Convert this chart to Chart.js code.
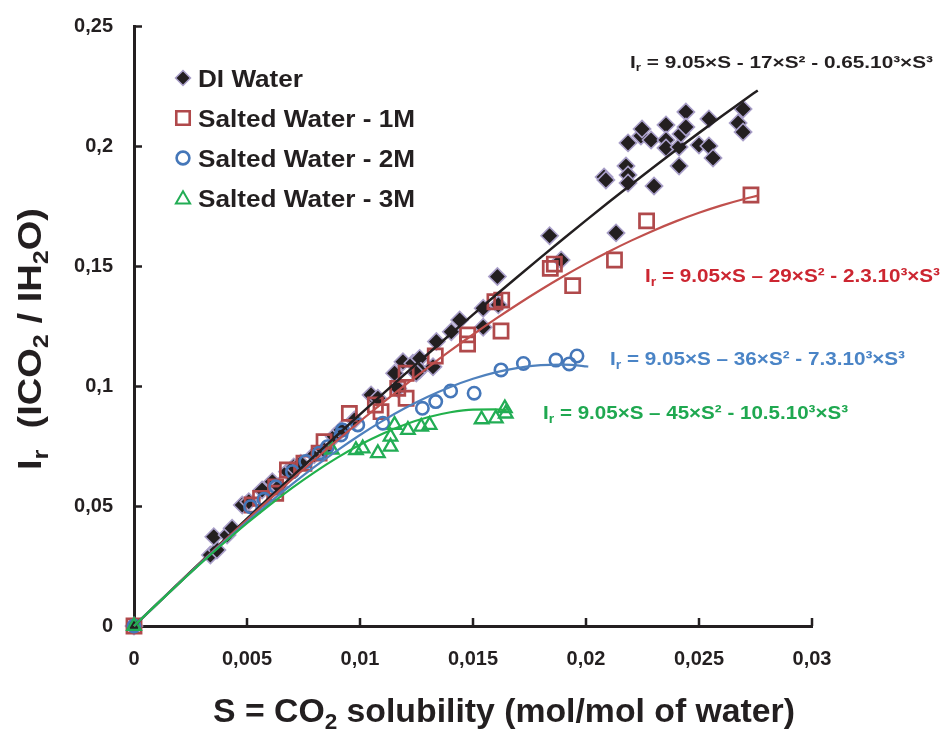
<!DOCTYPE html>
<html><head><meta charset="utf-8">
<script src="https://cdn.jsdelivr.net/npm/chart.js@4.4.1/dist/chart.umd.min.js"></script>
<style>html,body{margin:0;padding:0;background:#fff;}canvas{display:block;}</style>
</head><body>
<canvas id="c" width="945" height="729"></canvas>
<script>
// ---- tick labels ----
const xTickValues = [0, 0.005, 0.01, 0.015, 0.02, 0.025, 0.03];
const xTickLabels = ['0', '0,005', '0,01', '0,015', '0,02', '0,025', '0,03'];
const yTickValues = [0, 0.05, 0.1, 0.15, 0.2, 0.25];
const yTickLabels = ['0', '0,05', '0,1', '0,15', '0,2', '0,25'];

// ---- series names ----
const seriesNames = ['DI Water', 'Salted Water - 1M', 'Salted Water - 2M', 'Salted Water - 3M'];

// ---- DI water (diamonds) ----
const diS = [0,0.00338,0.00367,0.00353,0.00412,0.00434,0.00479,0.00508,0.00567,0.00612,0.0064,0.00679,0.00707,0.00738,0.00797,0.00841,0.00886,0.00916,0.00975,0.01049,0.01079,0.01153,0.01167,0.0119,0.01234,0.01264,0.01264,0.01249,0.01323,0.01338,0.01404,0.01441,0.01545,0.01545,0.01612,0.01608,0.01839,0.0189,0.02133,0.0208,0.02088,0.02177,0.02186,0.02186,0.02186,0.02243,0.02248,0.02288,0.02301,0.02354,0.02354,0.02354,0.02412,0.02412,0.0242,0.02442,0.02442,0.025,0.02544,0.02544,0.02562,0.02673,0.02695,0.02695];
const diIr = [0,0.0296,0.0317,0.0372,0.0379,0.0407,0.0504,0.0518,0.0567,0.0601,0.0581,0.0643,0.0663,0.0678,0.0713,0.0733,0.0789,0.0817,0.0858,0.0963,0.0949,0.1053,0.099,0.1101,0.1095,0.1115,0.1067,0.1054,0.108,0.1185,0.1226,0.1275,0.1245,0.1324,0.1338,0.1456,0.1626,0.1525,0.1638,0.1871,0.1858,0.1917,0.1879,0.1846,0.2013,0.2042,0.2071,0.2025,0.1833,0.2088,0.2025,0.1992,0.1996,0.1917,0.205,0.2142,0.2079,0.2004,0.2113,0.2,0.195,0.2096,0.2154,0.2058];

// ---- Salted water 1M (squares) ----
const s1S = [0,0.00523,0.0056,0.00627,0.00627,0.00679,0.00752,0.00819,0.00841,0.00953,0.01068,0.01093,0.01167,0.01204,0.01204,0.01333,0.01476,0.01476,0.01597,0.01627,0.01624,0.01842,0.0186,0.01941,0.02126,0.02268,0.0273];
const s1Ir = [0,0.0504,0.0532,0.0553,0.058,0.065,0.0678,0.072,0.0768,0.0886,0.0921,0.0893,0.099,0.1053,0.0949,0.1125,0.1213,0.1175,0.1351,0.1358,0.1229,0.149,0.1508,0.1418,0.1525,0.1688,0.1796];

// ---- Salted water 2M (circles) ----
const s2S = [0,0.00516,0.00575,0.00627,0.00701,0.0076,0.00819,0.00856,0.00916,0.00923,0.0099,0.01101,0.01276,0.01335,0.01401,0.01505,0.01624,0.01723,0.01867,0.01926,0.0196];
const s2Ir = [0,0.0497,0.0528,0.058,0.0643,0.0685,0.072,0.0747,0.0796,0.0817,0.0838,0.0845,0.0907,0.0935,0.0979,0.097,0.1067,0.1094,0.1108,0.1092,0.1125];

// ---- Salted water 3M (triangles) ----
const s3S = [0,0.00875,0.00982,0.01012,0.01079,0.01135,0.01135,0.01153,0.01212,0.01271,0.01308,0.01538,0.01601,0.01641,0.01645];
const s3Ir = [0,0.0735,0.0733,0.074,0.072,0.0747,0.0789,0.0838,0.0817,0.083,0.0838,0.0861,0.0865,0.0907,0.0885];

// ---- fitted curves ----
const fitS_DI = [0,0.001,0.002,0.003,0.004,0.005,0.006,0.007,0.008,0.009,0.01,0.011,0.012,0.013,0.014,0.015,0.016,0.017,0.018,0.019,0.02,0.021,0.022,0.023,0.024,0.025,0.026,0.027,0.0276];
const fitIr_DI = [0,0.009032,0.018027,0.026979,0.035886,0.044744,0.053548,0.062294,0.070979,0.079599,0.08815,0.096628,0.105029,0.113349,0.121584,0.129731,0.137786,0.145744,0.153601,0.161355,0.169,0.176533,0.183951,0.191248,0.198422,0.205469,0.212384,0.219163,0.223164];
const fitS_1M = [0,0.001,0.002,0.003,0.004,0.005,0.006,0.007,0.008,0.009,0.01,0.011,0.012,0.013,0.014,0.015,0.016,0.017,0.018,0.019,0.02,0.021,0.022,0.023,0.024,0.025,0.026,0.027,0.0276];
const fitIr_1M = [0,0.009019,0.017966,0.026827,0.035589,0.044238,0.052759,0.06114,0.069366,0.077424,0.0853,0.09298,0.10045,0.107696,0.114705,0.121463,0.127955,0.134169,0.14009,0.145705,0.151,0.155961,0.160574,0.164825,0.168701,0.172188,0.175271,0.177938,0.179333];
const fitS_2M = [0,0.001,0.002,0.003,0.004,0.005,0.006,0.007,0.008,0.009,0.01,0.011,0.012,0.013,0.014,0.015,0.016,0.017,0.018,0.019,0.02,0.0201];
const fitIr_2M = [0,0.009007,0.017898,0.026629,0.035157,0.043438,0.051427,0.059082,0.066358,0.073212,0.0796,0.085478,0.090802,0.095528,0.099613,0.103013,0.105683,0.107581,0.108662,0.108883,0.1082,0.108078];
const fitS_3M = [0,0.001,0.002,0.003,0.004,0.005,0.006,0.007,0.008,0.009,0.01,0.011,0.012,0.013,0.014,0.015,0.016,0.0165];
const fitIr_3M = [0,0.008995,0.017836,0.026462,0.034808,0.042813,0.050412,0.057544,0.064144,0.070151,0.0755,0.08013,0.083976,0.086977,0.089068,0.090188,0.090272,0.089906];

// ---- colours ----
const INK = '#231f20';
const C_DI = '#231f20', C_DI_EDGE = '#a99fc9';
const C_1M = '#b0494b', C_1M_LINE = '#c0504d', C_1M_TXT = '#cc2631';
const C_2M = '#4577b9', C_2M_LINE = '#4f81bd', C_2M_TXT = '#4a84c6';
const C_3M = '#22ad55', C_3M_LINE = '#22b14c', C_3M_TXT = '#1fa850';

const pts = (xs, ys) => xs.map((x, i) => ({x: x, y: ys[i]}));
const FONT = '"Liberation Sans", Arial, Helvetica, sans-serif';

function segFont(s, size) { return 'bold ' + (s.sub ? Math.round(size * 0.66) : size) + 'px ' + FONT; }
function richWidth(ctx, segs, size) {
  let w = 0;
  for (const s of segs) { ctx.font = segFont(s, size); w += ctx.measureText(s.t).width; }
  return w;
}
function drawRich(ctx, segs, x, y, size, targetW, color, rot) {
  const nat = richWidth(ctx, segs, size);
  const sx = targetW ? targetW / nat : 1;
  ctx.save();
  ctx.translate(x, y);
  if (rot) ctx.rotate(rot);
  ctx.scale(sx, 1);
  ctx.fillStyle = color;
  ctx.textBaseline = 'alphabetic';
  ctx.textAlign = 'left';
  let cx = 0;
  for (const s of segs) {
    ctx.font = segFont(s, size);
    ctx.fillText(s.t, cx, s.sub ? size * 0.2 : 0);
    cx += ctx.measureText(s.t).width;
  }
  ctx.restore();
}
function marker(ctx, style, x, y, r, fill, stroke, lw) {
  ctx.save();
  ctx.beginPath();
  if (style === 'rectRot') {
    ctx.moveTo(x, y - r); ctx.lineTo(x + r, y); ctx.lineTo(x, y + r); ctx.lineTo(x - r, y); ctx.closePath();
  } else if (style === 'rect') {
    const h = r * Math.SQRT1_2; ctx.rect(x - h, y - h, 2 * h, 2 * h);
  } else if (style === 'circle') {
    ctx.arc(x, y, r, 0, Math.PI * 2);
  } else if (style === 'triangle') {
    for (let k = 0; k < 3; k++) {
      const a = k * 2 * Math.PI / 3;
      const px = x + Math.sin(a) * r, py = y - Math.cos(a) * r;
      if (k === 0) ctx.moveTo(px, py); else ctx.lineTo(px, py);
    }
    ctx.closePath();
  }
  if (fill) { ctx.fillStyle = fill; ctx.fill(); }
  ctx.lineWidth = lw; ctx.strokeStyle = stroke; ctx.stroke();
  ctx.restore();
}

const decor = {
  id: 'decor',
  beforeDatasetsDraw(chart) {
    const ctx = chart.ctx;
    const xs = chart.scales.x, ys = chart.scales.y;
    const a = chart.chartArea;
    ctx.save();
    ctx.strokeStyle = INK; ctx.lineWidth = 2.5;
    ctx.beginPath();
    for (const v of yTickValues) {
      const py = Math.round(ys.getPixelForValue(v)) + 0.5;
      ctx.moveTo(a.left, py); ctx.lineTo(a.left + 8, py);
    }
    for (const v of xTickValues) {
      const px = Math.round(xs.getPixelForValue(v));
      ctx.moveTo(px, a.bottom); ctx.lineTo(px, a.bottom - 8);
    }
    ctx.stroke();
    ctx.restore();
  },
  afterDraw(chart) {
    const ctx = chart.ctx;
    // legend
    const lx = 183, ltx = 198, rows = [78, 118, 158, 198];
    marker(ctx, 'rectRot', lx, rows[0], 7.5, C_DI, C_DI_EDGE, 1.5);
    marker(ctx, 'rect', lx, rows[1], 9.5, null, C_1M, 2.6);
    marker(ctx, 'circle', lx, rows[2], 6.4, null, C_2M, 2.6);
    marker(ctx, 'triangle', lx, rows[3] + 1.5, 8.2, null, C_3M, 2);
    const legW = [105, 217, 217, 217];
    seriesNames.forEach((n, i) => drawRich(ctx, [{t: n}], ltx, rows[i] + 9, 24, legW[i], INK));

    // equations
    drawRich(ctx, [{t: 'I'}, {t: 'r', sub: true}, {t: ' = 9.05×S - 17×S² - 0.65.10³×S³'}], 630, 68, 17, 303, INK);
    drawRich(ctx, [{t: 'I'}, {t: 'r', sub: true}, {t: ' = 9.05×S – 29×S² - 2.3.10³×S³'}], 645, 282, 19, 295, C_1M_TXT);
    drawRich(ctx, [{t: 'I'}, {t: 'r', sub: true}, {t: ' = 9.05×S – 36×S² - 7.3.10³×S³'}], 610, 365, 19, 295, C_2M_TXT);
    drawRich(ctx, [{t: 'I'}, {t: 'r', sub: true}, {t: ' = 9.05×S – 45×S² - 10.5.10³×S³'}], 543, 419, 19, 305, C_3M_TXT);

    // axis titles
    drawRich(ctx, [{t: 'S = CO'}, {t: '2', sub: true}, {t: ' solubility (mol/mol of water)'}], 213, 722, 33, 582, INK);
    drawRich(ctx, [{t: 'I'}, {t: 'r', sub: true}, {t: '  (ICO'}, {t: '2', sub: true}, {t: ' / IH'}, {t: '2', sub: true}, {t: 'O)'}], 41, 470, 33, 262, INK, -Math.PI / 2);
  }
};

const scatterBase = {showLine: false, clip: false};
const lineBase = {showLine: true, pointRadius: 0, pointHoverRadius: 0, clip: false, cubicInterpolationMode: 'monotone', fill: false};

new Chart(document.getElementById('c'), {
  type: 'scatter',
  data: {
    datasets: [
      Object.assign({label: seriesNames[0], data: pts(diS, diIr), pointStyle: 'rectRot', pointRadius: 8.6, pointHoverRadius: 8.6,
        pointBackgroundColor: C_DI, pointBorderColor: C_DI_EDGE, pointBorderWidth: 1.6, order: 10}, scatterBase),
      Object.assign({label: seriesNames[1], data: pts(s1S, s1Ir), pointStyle: 'rect', pointRadius: 10, pointHoverRadius: 10,
        pointBackgroundColor: 'rgba(0,0,0,0)', pointBorderColor: C_1M, pointBorderWidth: 2.7, order: 9}, scatterBase),
      Object.assign({label: seriesNames[2], data: pts(s2S, s2Ir), pointStyle: 'circle', pointRadius: 6.2, pointHoverRadius: 6.2,
        pointBackgroundColor: 'rgba(0,0,0,0)', pointBorderColor: C_2M, pointBorderWidth: 2.6, order: 8}, scatterBase),
      Object.assign({label: seriesNames[3], data: pts(s3S, s3Ir), pointStyle: 'triangle', pointRadius: 7.8, pointHoverRadius: 7.8,
        pointBackgroundColor: 'rgba(0,0,0,0)', pointBorderColor: C_3M, pointBorderWidth: 2.3, order: 7}, scatterBase),
      Object.assign({label: 'fit DI', data: pts(fitS_DI, fitIr_DI), borderColor: INK, borderWidth: 2.5, order: 4}, lineBase),
      Object.assign({label: 'fit 1M', data: pts(fitS_1M, fitIr_1M), borderColor: C_1M_LINE, borderWidth: 2.2, order: 3}, lineBase),
      Object.assign({label: 'fit 2M', data: pts(fitS_2M, fitIr_2M), borderColor: C_2M_LINE, borderWidth: 2.2, order: 2}, lineBase),
      Object.assign({label: 'fit 3M', data: pts(fitS_3M, fitIr_3M), borderColor: C_3M_LINE, borderWidth: 2.2, order: 1}, lineBase)
    ]
  },
  options: {
    responsive: false,
    animation: false,
    devicePixelRatio: 1,
    layout: {padding: {top: 26, right: 133, bottom: 0, left: 0}},
    plugins: {legend: {display: false}, tooltip: {enabled: false}},
    scales: {
      x: {
        type: 'linear', min: 0, max: 0.03,
        afterFit: s => { s.height = 103; s.paddingLeft = 0; s.paddingRight = 0; },
        afterBuildTicks: s => { s.ticks = xTickValues.map(v => ({value: v})); },
        grid: {display: false, drawTicks: false},
        border: {display: true, color: INK, width: 3},
        ticks: {
          padding: 21, color: INK, maxRotation: 0, autoSkip: false,
          font: {family: FONT, size: 20, weight: 'bold'},
          callback: (v, i) => xTickLabels[i]
        }
      },
      y: {
        type: 'linear', min: 0, max: 0.25,
        afterFit: s => { s.width = 134; s.paddingTop = 0; s.paddingBottom = 0; },
        afterBuildTicks: s => { s.ticks = yTickValues.map(v => ({value: v})); },
        grid: {display: false, drawTicks: false},
        border: {display: true, color: INK, width: 3},
        ticks: {
          padding: 21, color: INK, autoSkip: false,
          font: {family: FONT, size: 20, weight: 'bold'},
          callback: (v, i) => yTickLabels[i]
        }
      }
    }
  },
  plugins: [decor]
});
</script>
</body></html>
